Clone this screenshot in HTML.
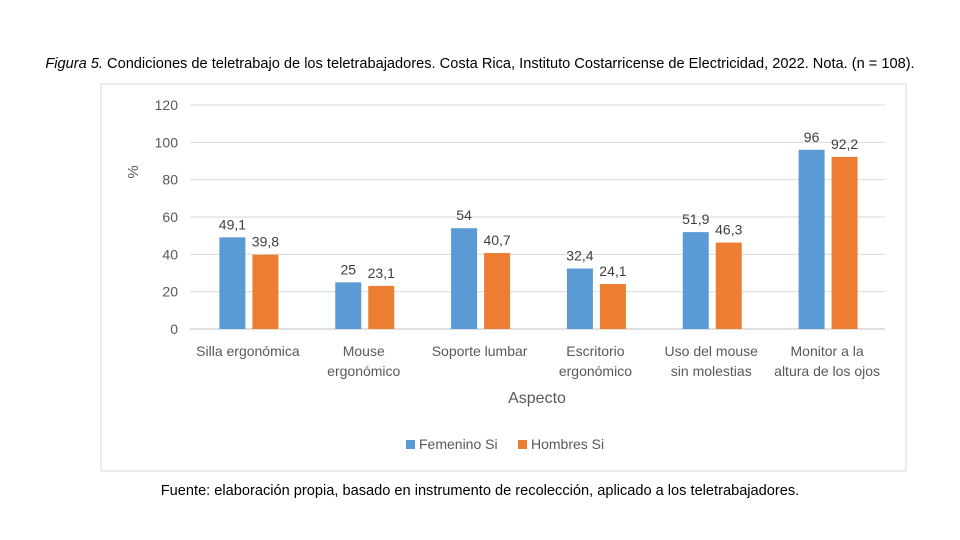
<!DOCTYPE html>
<html><head><meta charset="utf-8"><style>
body{margin:0;width:960px;height:540px;background:#fff;overflow:hidden;font-family:"Liberation Sans",sans-serif}
.cap{position:absolute;left:0;width:960px;text-align:center;font-size:14.6px;color:#000;white-space:nowrap}
</style></head><body>
<div class="cap" style="top:56px"><i>Figura 5.</i> Condiciones de teletrabajo de los teletrabajadores. Costa Rica, Instituto Costarricense de Electricidad, 2022. Nota. (n = 108).</div>
<div class="cap" style="top:483px">Fuente: elaboración propia, basado en instrumento de recolección, aplicado a los teletrabajadores.</div>
<svg id="c" width="960" height="540" style="position:absolute;left:0;top:0"></svg>
<script>
const categories=[["Silla ergonómica"],["Mouse","ergonómico"],["Soporte lumbar"],["Escritorio","ergonómico"],["Uso del mouse","sin molestias"],["Monitor a la","altura de los ojos"]];
const femenino=[49.1,25,54,32.4,51.9,96];
const hombres=[39.8,23.1,40.7,24.1,46.3,92.2];
const femLabels=["49,1","25","54","32,4","51,9","96"];
const homLabels=["39,8","23,1","40,7","24,1","46,3","92,2"];
const ticks=[0,20,40,60,80,100,120];
const svg=document.getElementById('c');const NS="http://www.w3.org/2000/svg";
function add(t,a,txt){const e=document.createElementNS(NS,t);for(const k in a)e.setAttribute(k,a[k]);if(txt!=null)e.textContent=txt;svg.appendChild(e);return e;}
const x0=190,x1=885,y0=329,yTop=105;
const y=v=>y0-(v/120)*(y0-yTop);
const gw=(x1-x0)/categories.length;
let e=add('rect',{x:101,y:84,width:805,height:387,fill:'none',stroke:'#d9d9d9'});


ticks.forEach(t=>{
 e=add('line',{x1:x0,x2:x1,y1:y(t),y2:y(t),stroke:t===0?'#bfbfbf':'#d9d9d9'});
 
 
 e=add('text',{x:178,y:y(t)+5,'text-anchor':'end','font-size':14,fill:'#595959'},t);
 
 
});
e=add('text',{x:138,y:172,'text-anchor':'middle','font-size':15,fill:'#595959',transform:'rotate(-90 138 172)'},'%');


categories.forEach((c,i)=>{
 const cx=x0+gw*(i+0.5);
 e=add('rect',{x:cx-28.5,y:y(femenino[i]),width:26,height:y0-y(femenino[i]),fill:'#5b9bd5'});
 
 
 e=add('rect',{x:cx+4.5,y:y(hombres[i]),width:26,height:y0-y(hombres[i]),fill:'#ed7d31'});
 
 
 e=add('text',{x:cx-15.5,y:y(femenino[i])-8,'text-anchor':'middle','font-size':14,fill:'#404040'},femLabels[i]);
 
 
 e=add('text',{x:cx+17.5,y:y(hombres[i])-8,'text-anchor':'middle','font-size':14,fill:'#404040'},homLabels[i]);
 
 
 c.forEach((l,j)=>{
  e=add('text',{x:cx,y:356+j*20,'text-anchor':'middle','font-size':14,fill:'#595959'},l);
  
  
 });
});
e=add('text',{x:537,y:403,'text-anchor':'middle','font-size':16,fill:'#595959'},'Aspecto');


e=add('rect',{x:406,y:440,width:9,height:9,fill:'#5b9bd5'});


e=add('text',{x:419,y:449,'font-size':14,fill:'#595959'},'Femenino Si');


e=add('rect',{x:518,y:440,width:9,height:9,fill:'#ed7d31'});


e=add('text',{x:531,y:449,'font-size':14,fill:'#595959'},'Hombres Si');


</script>
</body></html>
